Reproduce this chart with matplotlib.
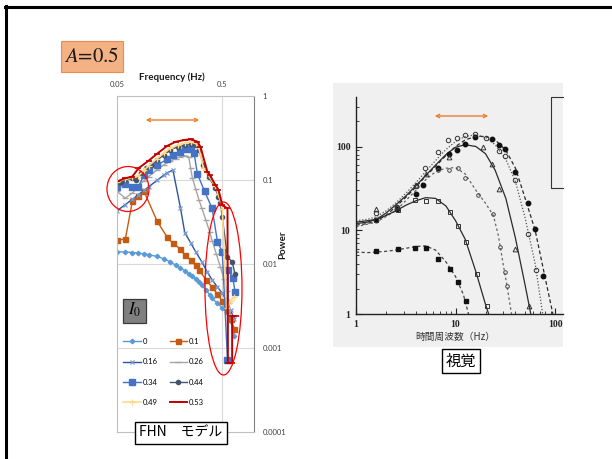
import matplotlib
matplotlib.use('Agg')
import matplotlib.pyplot as plt
from matplotlib.patches import Rectangle, Ellipse, FancyArrowPatch
from matplotlib.lines import Line2D
from matplotlib.ticker import FixedLocator, NullLocator, LogLocator, NullFormatter

plt.rcParams['mathtext.fontset'] = 'stix'

# ---------------- data: FHN model (left) ----------------
series_labels = ['0', '0.1', '0.16', '0.26', '0.34', '0.44', '0.49', '0.53']

f_0 = [0.05, 0.06, 0.07, 0.08, 0.09, 0.10, 0.12, 0.14, 0.16, 0.18, 0.20, 0.22, 0.24,
       0.26, 0.28, 0.30, 0.32, 0.35, 0.38, 0.40, 0.45, 0.50, 0.55, 0.60, 0.65]
p_0 = [0.0140, 0.0139, 0.0137, 0.0135, 0.0132, 0.0129, 0.0123, 0.0115, 0.0106, 0.0097,
       0.0090, 0.0083, 0.0077, 0.0072, 0.0066, 0.0061, 0.0056, 0.0049, 0.0043, 0.0039,
       0.0034, 0.0030, 0.0027, 0.0021, 0.0014]

f_01 = [0.05, 0.06, 0.07, 0.08, 0.09, 0.12, 0.15, 0.17, 0.20, 0.22, 0.25, 0.28, 0.30,
        0.35, 0.40, 0.45, 0.50, 0.55, 0.60, 0.65]
p_01 = [0.0193, 0.0198, 0.056, 0.064, 0.074, 0.0325, 0.0208, 0.0176, 0.0151, 0.0128,
        0.0112, 0.0097, 0.0085, 0.0065, 0.0053, 0.0044, 0.0036, 0.0028, 0.0022, 0.0017]

f_016 = [0.05, 0.06, 0.07, 0.08, 0.09, 0.10, 0.12, 0.14, 0.15, 0.17, 0.20, 0.22, 0.25,
         0.28, 0.32, 0.36, 0.40, 0.45, 0.50, 0.55, 0.60, 0.65]
p_016 = [0.043, 0.051, 0.059, 0.067, 0.075, 0.083, 0.099, 0.115, 0.122, 0.131, 0.047,
         0.0237, 0.0179, 0.0139, 0.0106, 0.0080, 0.0065, 0.0053, 0.0045, 0.0036, 0.0028, 0.0022]

f_026 = [0.05, 0.06, 0.07, 0.08, 0.09, 0.10, 0.12, 0.14, 0.16, 0.18, 0.20, 0.22, 0.24,
         0.25, 0.26, 0.28, 0.30, 0.32, 0.35, 0.38, 0.40, 0.44, 0.48, 0.52, 0.55, 0.58, 0.60]
p_026 = [0.073, 0.061, 0.070, 0.085, 0.098, 0.110, 0.132, 0.152, 0.168, 0.180, 0.190,
         0.195, 0.190, 0.139, 0.105, 0.078, 0.058, 0.046, 0.033, 0.024, 0.019, 0.013,
         0.0092, 0.0066, 0.0048, 0.0034, 0.0024]

f_034 = [0.05, 0.06, 0.07, 0.08, 0.09, 0.10, 0.12, 0.15, 0.17, 0.20, 0.22, 0.25, 0.27,
         0.29, 0.34, 0.40, 0.45, 0.50, 0.56, 0.57, 0.63, 0.66]
p_034 = [0.082, 0.089, 0.082, 0.083, 0.115, 0.132, 0.151, 0.176, 0.199, 0.217, 0.232,
         0.232, 0.208, 0.118, 0.073, 0.046, 0.0184, 0.0140, 0.00072, 0.0085, 0.0068, 0.0047]

f_044 = [0.05, 0.055, 0.06, 0.07, 0.075, 0.085, 0.095, 0.105, 0.12, 0.14, 0.16, 0.19,
         0.22, 0.25, 0.28, 0.30, 0.33, 0.37, 0.43, 0.46, 0.48, 0.50, 0.56, 0.62, 0.66]
p_044 = [0.091, 0.095, 0.100, 0.105, 0.100, 0.120, 0.138, 0.151, 0.173, 0.199, 0.228,
         0.249, 0.261, 0.268, 0.261, 0.228, 0.150, 0.110, 0.080, 0.063, 0.053, 0.036,
         0.012, 0.0107, 0.0076]

f_049 = [0.05, 0.06, 0.07, 0.08, 0.09, 0.10, 0.12, 0.14, 0.16, 0.19, 0.22, 0.25, 0.28,
         0.30, 0.33, 0.37, 0.43, 0.46, 0.50, 0.55, 0.60, 0.64]
p_049 = [0.094, 0.103, 0.108, 0.112, 0.130, 0.148, 0.180, 0.210, 0.238, 0.262, 0.275,
         0.282, 0.275, 0.240, 0.140, 0.114, 0.084, 0.068, 0.045, 0.0030, 0.0036, 0.0040]

f_053 = [0.05, 0.06, 0.07, 0.08, 0.10, 0.12, 0.15, 0.18, 0.22, 0.25, 0.29, 0.31, 0.36,
         0.38, 0.43, 0.46, 0.50, 0.56, 0.565, 0.62, 0.62, 0.67]
p_053 = [0.096, 0.105, 0.110, 0.138, 0.170, 0.205, 0.255, 0.285, 0.300, 0.305, 0.286,
         0.249, 0.126, 0.115, 0.087, 0.076, 0.050, 0.046, 0.00066, 0.00066, 0.0024, 0.0024]

x_ticks_left = [0.05, 0.5]
y_ticks_left = [1, 0.1, 0.01, 0.001, 0.0001]
y_ticklabels_left = ['1', '0.1', '0.01', '0.001', '0.0001']

# ---------------- data: human vision (right) ----------------
fA = [1, 1.3, 1.6, 2, 2.5, 3.2, 4, 5, 6.3, 8, 10, 12.5, 16, 20, 25, 32, 40, 50, 63, 80, 95]
sA = [11.5, 12, 13, 15, 19, 25, 33, 44, 58, 78, 100, 120, 132, 132, 120, 90, 55, 24, 10, 2.6, 1]
ptA_f = [1.58, 2.6, 4.0, 4.75, 6.7, 8.5, 10.3, 12.4, 15.7, 23, 27.3, 31.5, 39.6, 53, 63, 76]
ptA_s = [13.2, 18, 27, 35, 56, 82, 90, 108, 129, 123, 103, 94, 50, 21, 10.3, 2.83]

fB = [1, 1.3, 1.6, 2, 2.5, 3.2, 4, 5, 6.3, 8, 10, 12.5, 16, 20, 25, 32, 40, 50, 63, 75]
sB = [13, 13.5, 14.5, 17, 21, 28, 37, 50, 68, 92, 115, 132, 138, 128, 105, 70, 38, 14, 4, 1]
ptB_f = [1.58, 2.6, 4.0, 4.9, 6.7, 8.4, 10.3, 12.4, 15.7, 20, 27, 31.5, 39.6, 53.6, 64]
ptB_s = [16, 19, 34, 55, 85, 121, 127, 138, 141, 128, 89, 76, 40, 9.1, 3.35]

fC = [1, 1.3, 1.6, 2, 2.5, 3.2, 4, 5, 6.3, 8, 10, 12.5, 16, 20, 25, 32, 40, 50, 57]
sC = [12.5, 13, 13.5, 16, 20, 26, 34, 45, 60, 80, 98, 105, 100, 82, 52, 24, 8, 2.2, 1]
ptC_f = [1.58, 2.6, 4.0, 5.1, 8.5, 19, 23, 27.5, 39.6, 54.6]
ptC_s = [18, 19, 35, 47, 74, 98, 61, 31, 6, 1.25]

fD = [1, 1.6, 2.5, 4, 5, 6.3, 8, 10, 12.5, 16, 20, 24, 27, 30, 33, 36.5]
sD = [11, 12.5, 17, 30, 40, 50, 55, 56, 47, 30, 21, 15, 8.5, 4, 2.1, 1]
ptD_f = [6.7, 8.5, 10.7, 12.4, 16.8, 24, 28, 31.5, 32.7]
ptD_s = [51.8, 52, 55, 42, 26, 15.5, 6.3, 3.2, 2.15]

fE = [1, 1.3, 1.6, 2, 2.5, 3.2, 4, 5, 6.3, 8, 10, 12.5, 16, 20, 21.5]
sE = [12, 12.5, 13.5, 15, 17, 20, 22.5, 24.5, 24, 19.5, 13, 7.8, 3.2, 1.3, 1]
ptE_f = [1.58, 2.66, 3.9, 5, 6.7, 8.8, 10.7, 12.7, 16.3, 20.5]
ptE_s = [13.2, 17.3, 22.7, 22.3, 22.3, 16.5, 11.2, 7.3, 2.97, 1.26]

fF = [1, 1.3, 1.6, 2, 2.5, 3.2, 4, 5, 6.3, 8, 10, 12, 13.5]
sF = [5.5, 5.4, 5.5, 5.6, 5.8, 6.1, 6.4, 6.5, 5.8, 4.2, 2.8, 1.7, 1.0]
ptF_f = [1.58, 2.66, 3.9, 5, 6.7, 8.8, 10.7, 12.7]
ptF_s = [5.7, 6.05, 6.2, 6.2, 4.5, 3.43, 2.42, 1.43]

x_ticks_right = [1, 10, 100]
y_ticks_right = [1, 10, 100]

# ---------------- figure ----------------
W, H = 612, 459
fig = plt.figure(figsize=(6.12, 4.59), dpi=100)
fig.patch.set_facecolor('white')

def fx(px):
    return px / W

def fy(py):
    return 1 - py / H

# slide frame
fig.add_artist(Line2D([fx(5), fx(612)], [fy(7), fy(7)], color='black', lw=2.2))
fig.add_artist(Line2D([fx(6), fx(6)], [fy(6), fy(459)], color='black', lw=2.2))

# A=0.5 box
fig.add_artist(Rectangle((fx(61), fy(72)), (123 - 61) / W, (72 - 41) / H,
                         transform=fig.transFigure, facecolor='#F4B183',
                         edgecolor='#F08A4B', lw=0.8))
fig.text(fx(92), fy(57), r'$A$=0.5', ha='center', va='center', fontsize=15,
         family='STIXGeneral', color='#1a1a1a')

# ---------------- left chart ----------------
ax = fig.add_axes([fx(117), fy(432), (254 - 117) / W, (432 - 96) / H])
ax.set_xscale('log')
ax.set_yscale('log')
ax.set_xlim(0.05, 1.0)
ax.set_ylim(0.0001, 1)

for yv in [0.1, 0.01, 0.001]:
    ax.axhline(yv, color='#D9D9D9', lw=0.8, zorder=0)
ax.axvline(0.5, color='#D9D9D9', lw=0.8, zorder=0)

styles = [
    dict(color='#5B9BD5', marker='D', ms=2.3, mfc='#5B9BD5', mec='#5B9BD5', lw=1.0),
    dict(color='#C55A11', marker='s', ms=3.6, mfc='#C55A11', mec='#C55A11', lw=1.0),
    dict(color='#2F5597', marker='x', ms=3.2, mec='#7A9BD8', mew=0.9, lw=1.0),
    dict(color='#A5A5A5', marker='_', ms=4.0, mec='#A5A5A5', mew=1.0, lw=1.0),
    dict(color='#4472C4', marker='s', ms=4.0, mfc='#4472C4', mec='#4472C4', lw=1.0),
    dict(color='#44546A', marker='o', ms=3.0, mfc='#44546A', mec='#44546A', lw=1.0),
    dict(color='#FFD98A', marker='+', ms=4.0, mec='#FFD98A', mew=0.9, lw=1.2),
    dict(color='#C00000', marker='_', ms=4.0, mec='#C00000', mew=1.2, lw=1.4),
]
data_left = [(f_0, p_0), (f_01, p_01), (f_016, p_016), (f_026, p_026),
             (f_034, p_034), (f_044, p_044), (f_049, p_049), (f_053, p_053)]
handles = []
for (fv, pv), st, lab in zip(data_left, styles, series_labels):
    h, = ax.plot(fv, pv, label=lab, **st)
    handles.append(h)

ax.xaxis.tick_top()
ax.xaxis.set_major_locator(FixedLocator(x_ticks_left))
ax.xaxis.set_minor_locator(NullLocator())
ax.set_xticklabels(['0.05', '0.5'])
ax.yaxis.tick_right()
ax.yaxis.set_major_locator(FixedLocator(y_ticks_left))
ax.yaxis.set_minor_locator(NullLocator())
ax.set_yticklabels(y_ticklabels_left)
ax.tick_params(axis='both', length=0, labelsize=5.5, colors='#404040')
ax.tick_params(axis='x', pad=6)
ax.tick_params(axis='y', pad=6)
for lbl in ax.get_xticklabels() + ax.get_yticklabels():
    lbl.set_family('Lato')
for s in ['left', 'top', 'bottom']:
    ax.spines[s].set_color('#BFBFBF')
    ax.spines[s].set_linewidth(0.8)
ax.spines['right'].set_color('#808080')
ax.spines['right'].set_linewidth(0.8)
ax.set_facecolor('white')

fig.text(fx(172), fy(77), 'Frequency (Hz)', ha='center', va='center',
         fontsize=7, fontweight='bold', family='Lato', color='#1a1a1a')
fig.text(fx(283), fy(245), 'Power', ha='center', va='center', rotation=90,
         fontsize=7, fontweight='bold', family='Lato', color='#1a1a1a')

order = [0, 2, 4, 6, 1, 3, 5, 7]
leg = ax.legend([handles[i] for i in order], [series_labels[i] for i in order],
                ncol=2, loc='upper left', bbox_to_anchor=(fx(123), fy(338)),
                bbox_transform=fig.transFigure, frameon=False,
                prop={'family': 'Lato', 'size': 5.5},
                handlelength=2.3, handletextpad=0.25, columnspacing=1.6,
                labelspacing=1.75, borderpad=0, borderaxespad=0)

# I0 box
fig.add_artist(Rectangle((fx(123), fy(322.5)), (146 - 123) / W, (322.5 - 298.5) / H,
                         transform=fig.transFigure, facecolor='#808080',
                         edgecolor='#3a3a3a', lw=0.9))
fig.text(fx(134.5), fy(310), r'$I_0$', ha='center', va='center', fontsize=12,
         color='black')

# FHN model box
fig.text(fx(181), fy(433), 'FHN\u3000モデル', ha='center', va='center', fontsize=10,
         family=['Noto Sans CJK JP', 'DejaVu Sans'],
         bbox=dict(boxstyle='square,pad=0.3', facecolor='white', edgecolor='black', lw=1.0))

# red ellipses
fig.add_artist(Ellipse((fx(128), fy(189)), 42 / W, 45 / H, transform=fig.transFigure,
                       fill=False, edgecolor='#FF0000', lw=0.9))
fig.add_artist(Ellipse((fx(223.5), fy(288.5)), 37 / W, 173 / H, transform=fig.transFigure,
                       fill=False, edgecolor='#FF0000', lw=0.9))

# orange arrows
fig.add_artist(FancyArrowPatch((fx(143), fy(120)), (fx(202), fy(120)),
                               transform=fig.transFigure, arrowstyle='<->',
                               mutation_scale=6, color='#ED7D31', lw=1.0))

# ---------------- right chart (vision) ----------------
fig.add_artist(Rectangle((fx(333), fy(347)), (563 - 333) / W, (347 - 83) / H,
                         transform=fig.transFigure, facecolor='#F0F0F0',
                         edgecolor='none', zorder=0))

ax2 = fig.add_axes([fx(356), fy(314), (563 - 356) / W, (314 - 97) / H])
ax2.set_facecolor('none')
ax2.set_xscale('log')
ax2.set_yscale('log')
ax2.set_xlim(1, 120)
ax2.set_ylim(1, 390)

lc = '#2a2a2a'
ax2.plot(fA, sA, color=lc, lw=0.9, ls=(0, (3, 2)))
ax2.plot(fB, sB, color='#555555', lw=0.9, ls=(0, (1, 1.5)))
ax2.plot(fC, sC, color=lc, lw=0.9, ls='-')
ax2.plot(fD, sD, color='#666666', lw=0.9, ls=(0, (2, 2)))
ax2.plot(fE, sE, color=lc, lw=0.9, ls='-')
ax2.plot(fF, sF, color='#444444', lw=0.9, ls=(0, (2.5, 2)))

ax2.plot(ptA_f, ptA_s, ls='none', marker='o', ms=3.2, mfc='#111111', mec='#111111')
ax2.plot(ptB_f, ptB_s, ls='none', marker='o', ms=3.2, mfc='none', mec='#333333', mew=0.7)
ax2.plot(ptC_f, ptC_s, ls='none', marker='^', ms=3.4, mfc='none', mec='#333333', mew=0.7)
ax2.plot(ptD_f, ptD_s, ls='none', marker='o', ms=2.6, mfc='none', mec='#444444', mew=0.7)
ax2.plot(ptE_f, ptE_s, ls='none', marker='s', ms=3.2, mfc='none', mec='#333333', mew=0.7)
ax2.plot(ptF_f, ptF_s, ls='none', marker='s', ms=3.2, mfc='#111111', mec='#111111')

for s in ['top', 'right']:
    ax2.spines[s].set_visible(False)
for s in ['left', 'bottom']:
    ax2.spines[s].set_color('#222222')
    ax2.spines[s].set_linewidth(1.0)
ax2.xaxis.set_major_locator(FixedLocator(x_ticks_right))
ax2.yaxis.set_major_locator(FixedLocator(y_ticks_right))
ax2.set_xticklabels(['1', '10', '100'])
ax2.set_yticklabels(['1', '10', '100'])
ax2.xaxis.set_minor_locator(LogLocator(base=10, subs=range(2, 10)))
ax2.yaxis.set_minor_locator(LogLocator(base=10, subs=range(2, 10)))
ax2.xaxis.set_minor_formatter(NullFormatter())
ax2.yaxis.set_minor_formatter(NullFormatter())
ax2.tick_params(which='major', direction='in', length=4, width=0.8, labelsize=7,
                colors='#222222', pad=4)
ax2.tick_params(which='minor', direction='in', length=2, width=0.6, colors='#222222')
for lbl in ax2.get_xticklabels() + ax2.get_yticklabels():
    lbl.set_family('Liberation Serif')
    lbl.set_fontweight('bold')

fig.text(fx(455), fy(337), '時間周波数（Hz）', ha='center', va='center', fontsize=7,
         family=['Noto Sans CJK JP', 'DejaVu Sans'], color='#333333')

# partial legend frame at right edge of scanned figure
fig.add_artist(Line2D([fx(563), fx(551), fx(551), fx(563)],
                      [fy(97), fy(97), fy(188), fy(188)], color='#333333', lw=0.8))

fig.add_artist(FancyArrowPatch((fx(432), fy(116)), (fx(491), fy(116)),
                               transform=fig.transFigure, arrowstyle='<->',
                               mutation_scale=6, color='#ED7D31', lw=1.0))

# 視覚 box
fig.text(fx(461), fy(361), '視覚', ha='center', va='center', fontsize=11,
         family=['Noto Sans CJK JP', 'DejaVu Sans'],
         bbox=dict(boxstyle='square,pad=0.25', facecolor='white', edgecolor='black', lw=1.0))

fig.savefig('out.png', dpi=100)
